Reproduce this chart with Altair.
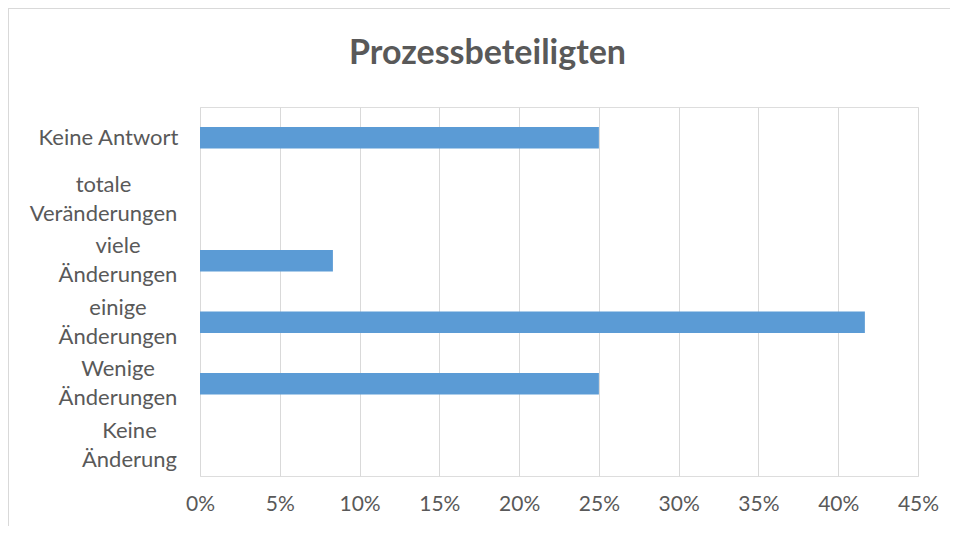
import altair as alt
import pandas as pd

categories = ["Keine Antwort", "totale Veränderungen", "viele Änderungen",
              "einige Änderungen", "Wenige Änderungen", "Keine Änderung"]
shares = [0.25, 0.0, 0.0833, 0.4167, 0.25, 0.0]
tick_values = [0, 0.05, 0.10, 0.15, 0.20, 0.25, 0.30, 0.35, 0.40, 0.45]
chart_title = "Prozessbeteiligten"

df = pd.DataFrame({"Kategorie": categories, "Anteil": shares})
one = pd.DataFrame({"k": [0]})

TEXT = "#595959"
GRID = "#D9D9D9"
BAR = "#5B9BD5"
FONT = "Lato"

pad_cond = {
    "condition": [
        {"test": "datum.value == 'Keine Antwort'", "value": 92},
        {"test": "datum.value == 'totale Veränderungen'", "value": 97},
        {"test": "datum.value == 'Keine Änderung'", "value": 71},
    ],
    "value": 82.5,
}
offset_cond = {
    "condition": {"test": "datum.value == 'Keine Antwort'", "value": 0},
    "value": -14.5,
}

bars = alt.Chart(df).mark_bar(color=BAR).encode(
    x=alt.X("Anteil:Q",
            scale=alt.Scale(domain=[0, 0.45], nice=False, zero=True),
            axis=alt.Axis(values=tick_values, format=".0%", title=None,
                          grid=True, gridColor=GRID, gridWidth=1,
                          domain=False, ticks=False, labelFlush=False,
                          labelOverlap=False, labelFont=FONT, labelFontSize=21,
                          labelColor=TEXT, labelPadding=17)),
    y=alt.Y("Kategorie:N", sort=categories,
            scale=alt.Scale(paddingInner=0.65, paddingOuter=0.325),
            axis=alt.Axis(title=None, grid=False, domain=False, ticks=False,
                          labelAlign="center", labelBaseline="middle",
                          labelLineHeight=29, labelFont=FONT, labelFontSize=22,
                          labelColor=TEXT, labelPadding=pad_cond,
                          labelOffset=offset_cond, labelLimit=0,
                          labelExpr="datum.label == 'Keine Antwort' ? datum.label : split(datum.label, ' ')")),
)

title_mark = alt.Chart(one).mark_text(
    text=chart_title, font=FONT, fontSize=34, fontWeight="bold", color=TEXT,
    align="center", baseline="alphabetic"
).encode(x=alt.value(287.5), y=alt.value(-42.7))

border_top = alt.Chart(one).mark_rule(color=GRID, strokeWidth=2).encode(
    x=alt.value(-192), x2=alt.value(760), y=alt.value(-99))
border_left = alt.Chart(one).mark_rule(color=GRID, strokeWidth=2).encode(
    x=alt.value(-192), y=alt.value(-99), y2=alt.value(430))

chart = alt.layer(border_top, border_left, bars, title_mark).properties(
    width=718, height=369,
    autosize=alt.AutoSizeParams(type="none"),
    padding={"left": 192, "top": 99, "right": 32, "bottom": 50},
).configure_view(stroke="transparent", strokeWidth=0, strokeOpacity=0).configure(background="white")

chart.save("out.html", embed_options={"renderer": "svg", "actions": False})
